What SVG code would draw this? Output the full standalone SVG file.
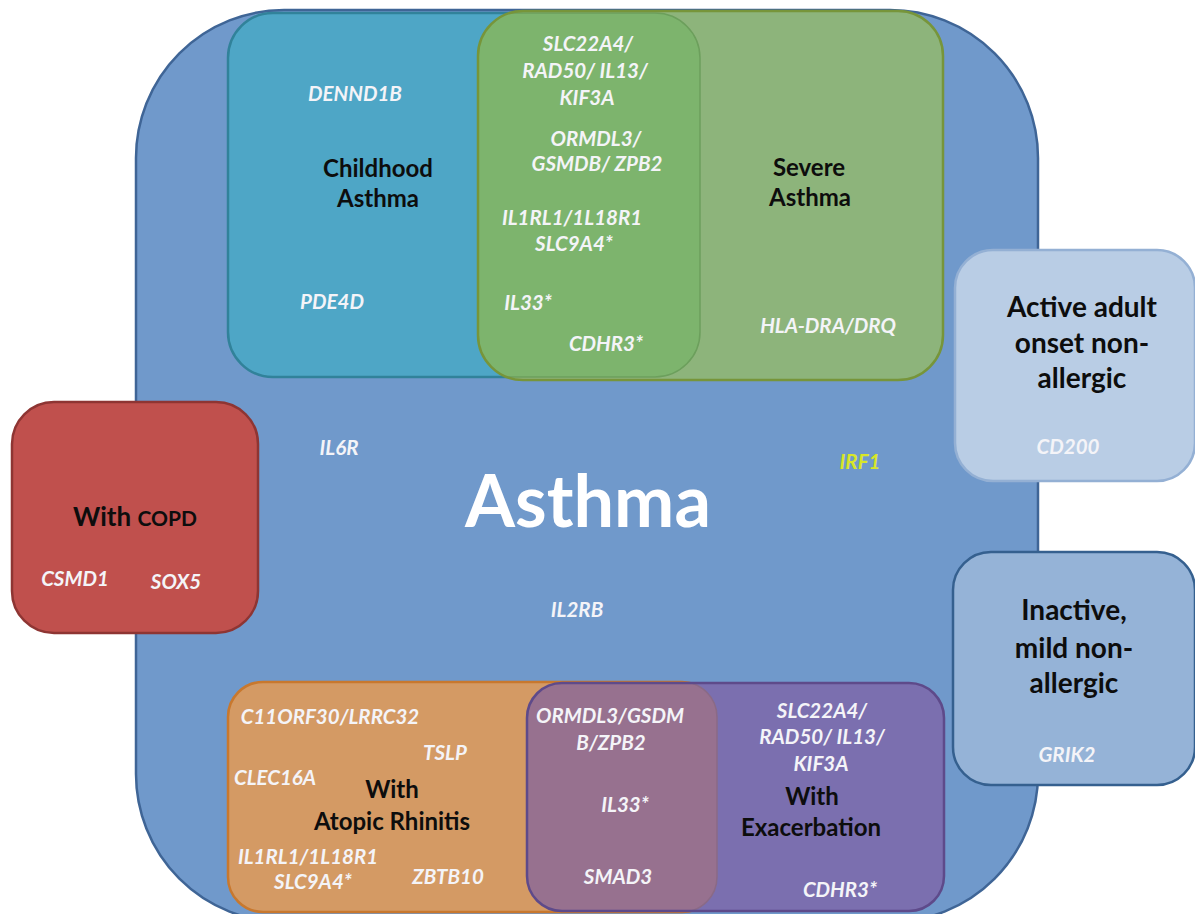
<svg xmlns="http://www.w3.org/2000/svg" width="1195" height="914" viewBox="0 0 1195 914">
<style>
.lbl{font-family:Lato,"Liberation Sans",sans-serif;font-weight:bold;fill:#0d0d0d;text-anchor:middle}
.gene{font-family:Lato,"Liberation Sans",sans-serif;font-weight:bold;font-style:italic;fill:#f4f4f8;text-anchor:middle;font-size:20.5px}
.big{font-size:24px}
.rt{font-size:28px}
</style>
<defs>
<clipPath id="clipGreen"><rect x="478" y="11" width="465" height="369" rx="45"/></clipPath>
<clipPath id="clipPurple"><rect x="527" y="683" width="417" height="228" rx="35"/></clipPath>
</defs>
<rect width="1195" height="914" fill="#ffffff"/>
<g id="asthma">
<rect x="136" y="10" width="902" height="912" rx="148" fill="#7099cb" stroke="#3f6596" stroke-width="2.5"/>
<text x="588" y="527" class="lbl" style="font-size:72px;fill:#ffffff">Asthma</text>
<text x="339" y="455" class="gene">IL6R</text>
<text x="860" y="469" class="gene" style="fill:#d8e628">IRF1</text>
<text x="577" y="617" class="gene">IL2RB</text>
</g>
<g id="childhood">
<rect x="228" y="13" width="472" height="364" rx="45" fill="#4ea6c6" stroke="#31829a" stroke-width="2.5"/>
</g>
<g id="severe">
<rect x="478" y="11" width="465" height="369" rx="45" fill="#8db47b"/>
<g clip-path="url(#clipGreen)">
<rect x="228" y="13" width="472" height="364" rx="45" fill="#7db46d" stroke="#6c9f5c" stroke-width="1.5"/>
</g>
<rect x="478" y="11" width="465" height="369" rx="45" fill="none" stroke="#77953a" stroke-width="2.5"/>
</g>
<g id="childhood-labels">
<text x="355" y="101" class="gene">DENND1B</text>
<text x="378" y="177" class="lbl big">Childhood</text>
<text x="378" y="207" class="lbl big">Asthma</text>
<text x="332" y="309" class="gene">PDE4D</text>
</g>
<g id="severe-labels">
<text x="588" y="51" class="gene">SLC22A4/</text>
<text x="585" y="78" class="gene">RAD50/ IL13/</text>
<text x="587" y="105" class="gene">KIF3A</text>
<text x="596" y="146" class="gene">ORMDL3/</text>
<text x="597" y="171" class="gene">GSMDB/ ZPB2</text>
<text x="572" y="225" class="gene">IL1RL1/1L18R1</text>
<text x="574" y="251" class="gene">SLC9A4*</text>
<text x="528" y="310" class="gene">IL33*</text>
<text x="606" y="351" class="gene">CDHR3*</text>
<text x="809" y="176" class="lbl big">Severe</text>
<text x="810" y="206" class="lbl big">Asthma</text>
<text x="828" y="333" class="gene">HLA-DRA/DRQ</text>
</g>
<g id="copd">
<rect x="12" y="402" width="246" height="231" rx="42" fill="#c0504d" stroke="#8e3533" stroke-width="2.5"/>
<text x="135" y="526" class="lbl" style="font-size:26px">With <tspan style="font-size:21px">COPD</tspan></text>
<text x="75" y="586" class="gene">CSMD1</text>
<text x="176" y="589" class="gene">SOX5</text>
</g>
<g id="active">
<rect x="955" y="250" width="240" height="231" rx="38" fill="#b9cde5" stroke="#94b0d4" stroke-width="2.5"/>
<text x="1082" y="317" class="lbl rt">Active adult</text>
<text x="1082" y="353" class="lbl rt">onset non-</text>
<text x="1082" y="388" class="lbl rt">allergic</text>
<text x="1068" y="454" class="gene">CD200</text>
</g>
<g id="inactive">
<rect x="953" y="552" width="242" height="233" rx="38" fill="#95b3d7" stroke="#35608f" stroke-width="2.5"/>
<text x="1074" y="620" class="lbl rt">Inactive,</text>
<text x="1074" y="658" class="lbl rt">mild non-</text>
<text x="1074" y="693" class="lbl rt">allergic</text>
<text x="1067" y="762" class="gene">GRIK2</text>
</g>
<g id="rhinitis">
<rect x="228" y="682" width="489" height="230" rx="35" fill="#d49a64" stroke="#c8782e" stroke-width="2.5"/>
</g>
<g id="exacerbation">
<rect x="527" y="683" width="417" height="228" rx="35" fill="#7b6faf"/>
<g clip-path="url(#clipPurple)">
<rect x="228" y="682" width="489" height="230" rx="35" fill="#97718f" stroke="#8a6a86" stroke-width="1.5"/>
</g>
<rect x="527" y="683" width="417" height="228" rx="35" fill="none" stroke="#5e4a8a" stroke-width="2.5"/>
</g>
<g id="rhinitis-labels">
<text x="330" y="724" class="gene">C11ORF30/LRRC32</text>
<text x="445" y="760" class="gene">TSLP</text>
<text x="275" y="785" class="gene">CLEC16A</text>
<text x="392" y="798" class="lbl big">With</text>
<text x="392" y="830" class="lbl big">Atopic Rhinitis</text>
<text x="308" y="864" class="gene">IL1RL1/1L18R1</text>
<text x="313" y="889" class="gene">SLC9A4*</text>
<text x="448" y="884" class="gene">ZBTB10</text>
</g>
<g id="exacerbation-labels">
<text x="610" y="723" class="gene">ORMDL3/GSDM</text>
<text x="611" y="750" class="gene">B/ZPB2</text>
<text x="625" y="812" class="gene">IL33*</text>
<text x="618" y="884" class="gene">SMAD3</text>
<text x="822" y="718" class="gene">SLC22A4/</text>
<text x="822" y="744" class="gene">RAD50/ IL13/</text>
<text x="821" y="771" class="gene">KIF3A</text>
<text x="812" y="805" class="lbl big">With</text>
<text x="811" y="836" class="lbl big">Exacerbation</text>
<text x="840" y="897" class="gene">CDHR3*</text>
</g>
</svg>
